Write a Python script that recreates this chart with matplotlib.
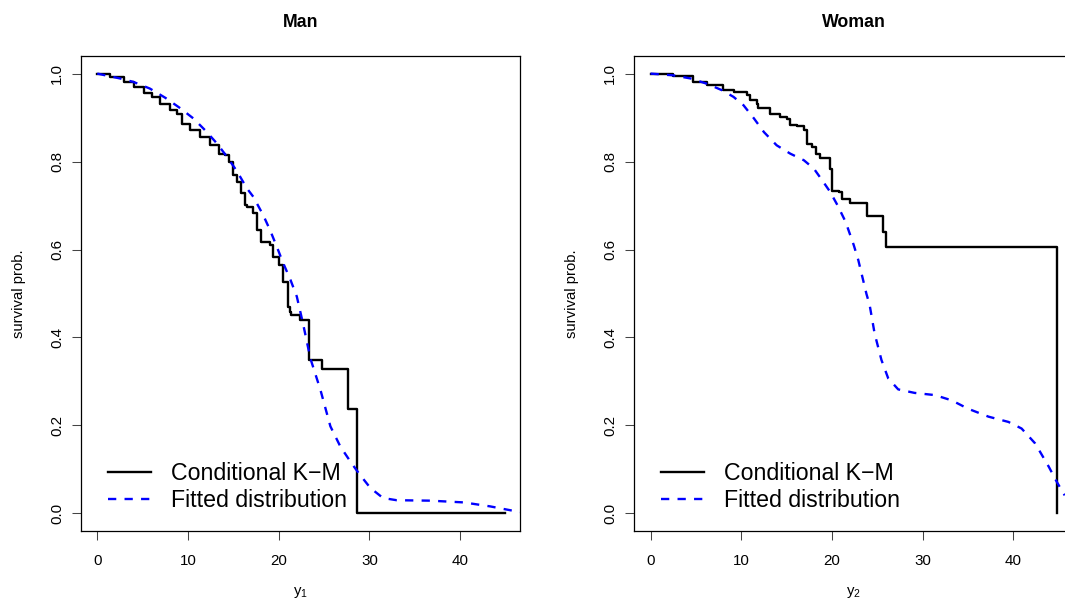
import matplotlib
matplotlib.use("Agg")
import matplotlib.pyplot as plt

plt.rcParams['font.family'] = ['Liberation Sans', 'DejaVu Sans']

# Conditional K-M step curves (time of drop, survival after drop)
man_km_t = [0, 1.4, 2.9, 4.0, 5.1, 6.0, 6.9, 8.0, 8.8, 9.3, 10.2, 11.3, 12.4, 13.4, 14.1,
            14.5, 15.0, 15.4, 15.9, 16.3, 16.5, 17.2, 17.6, 18.1, 19.05, 19.4, 20.0, 20.45,
            21.07, 21.2, 21.4, 22.36, 23.3, 24.75, 27.6, 28.6, 44.9]
man_km_s = [1.0, 0.992, 0.982, 0.970, 0.957, 0.946, 0.932, 0.917, 0.907, 0.886, 0.871, 0.856,
            0.837, 0.818, 0.815, 0.799, 0.769, 0.754, 0.728, 0.701, 0.697, 0.682, 0.644, 0.618,
            0.610, 0.584, 0.565, 0.527, 0.470, 0.458, 0.451, 0.440, 0.349, 0.328, 0.238, 0.0, 0.0]

woman_km_t = [0, 2.5, 4.7, 6.2, 8.0, 9.15, 10.6, 11.0, 11.7, 11.9, 13.2, 13.9, 14.3, 15.0, 15.4,
              16.1, 16.9, 17.2, 17.8, 18.2, 18.7, 19.8, 20.0, 20.8, 21.1, 21.8, 22.0, 23.85,
              25.6, 26.0, 44.8]
woman_km_s = [1.0, 0.995, 0.982, 0.975, 0.962, 0.958, 0.952, 0.939, 0.932, 0.921, 0.909, 0.907,
              0.901, 0.896, 0.883, 0.880, 0.871, 0.841, 0.833, 0.818, 0.808, 0.784, 0.733, 0.731,
              0.716, 0.714, 0.705, 0.677, 0.640, 0.606, 0.0]

# Fitted distribution curves
man_fit_x = [0, 2.5, 4.0, 5.8, 7.5, 9.1, 10.6, 11.9, 13.2, 14.3, 15.4, 16.5, 17.2, 18.3, 19.05,
             19.8, 20.5, 21.3, 22.0, 22.7, 23.5, 24.6, 25.7, 26.8, 27.9, 28.8, 30.1, 31.5, 33.0,
             36.7, 40.4, 43.3, 46.6]
man_fit_y = [1.0, 0.989, 0.981, 0.966, 0.945, 0.922, 0.898, 0.871, 0.841, 0.811, 0.778, 0.739,
             0.720, 0.678, 0.644, 0.606, 0.569, 0.531, 0.493, 0.430, 0.352, 0.281, 0.198, 0.152,
             0.118, 0.092, 0.058, 0.035, 0.030, 0.029, 0.025, 0.016, 0.003]

woman_fit_x = [0, 2.5, 4.4, 6.2, 7.9, 9.15, 10.25, 11.4, 12.5, 13.9, 15.4, 16.9, 18.0, 18.9,
               19.8, 20.6, 21.5, 22.4, 22.9, 23.8, 24.15, 24.7, 25.45, 26.2, 27.3, 29.1, 31.35,
               33.2, 35.0, 37.25, 39.45, 40.9, 42.4, 43.9, 44.8, 45.65]
woman_fit_y = [1.0, 0.996, 0.989, 0.977, 0.962, 0.947, 0.928, 0.898, 0.867, 0.837, 0.818, 0.803,
               0.784, 0.758, 0.731, 0.701, 0.663, 0.610, 0.576, 0.499, 0.474, 0.409, 0.349,
               0.307, 0.282, 0.274, 0.269, 0.257, 0.238, 0.220, 0.208, 0.193, 0.159, 0.106,
               0.071, 0.041]

panels = [
    ("Man", r"$\mathregular{y_1}$", man_km_t, man_km_s, man_fit_x, man_fit_y, 81),
    ("Woman", r"$\mathregular{y_2}$", woman_km_t, woman_km_s, woman_fit_x, woman_fit_y, 634.3),
]

W, H = 1065, 607
fig = plt.figure(figsize=(W / 100, H / 100), dpi=100)

for title, xlab, kt, ks, fx, fy, left_px in panels:
    ax = fig.add_axes([left_px / W, (H - 531) / H, 439 / W, 475 / H])
    ax.step(kt, ks, where='post', color='black', lw=1.7, label='Conditional K\u2212M')
    ax.plot(fx, fy, color='blue', lw=1.7, linestyle=(0, (3.5, 3.5)), label='Fitted distribution')
    ax.set_xlim(-1.79, 46.6)
    ax.set_ylim(-0.04, 1.04)
    ax.set_xticks([0, 10, 20, 30, 40])
    ax.set_yticks([0, 0.2, 0.4, 0.6, 0.8, 1.0])
    ax.set_yticklabels(['0.0', '0.2', '0.4', '0.6', '0.8', '1.0'])
    ax.tick_params(axis='both', length=6.2, width=0.75, labelsize=10.9, color='#444444')
    ax.tick_params(axis='x', pad=10.5)
    ax.tick_params(axis='y', pad=6, labelrotation=90)
    for lab in ax.get_yticklabels():
        lab.set_va('center')
    for sp in ax.spines.values():
        sp.set_linewidth(0.9)
    ax.set_title(title, fontsize=12.8, fontweight='bold', pad=21)
    ax.text(0.5, (531 - 593) / 475, xlab, transform=ax.transAxes, ha='center', va='center',
            fontsize=10.7)
    ax.text(-62 / 439, 0.5, 'survival prob.', transform=ax.transAxes, ha='center', va='center',
            rotation=90, fontsize=10.7)
    ax.legend(loc='upper left', bbox_to_anchor=(0.0615, 0.145), frameon=False, fontsize=16.7,
              handlelength=1.85, handletextpad=0.86, labelspacing=0.18, borderpad=0,
              borderaxespad=0)

fig.savefig('out.png', dpi=100)
